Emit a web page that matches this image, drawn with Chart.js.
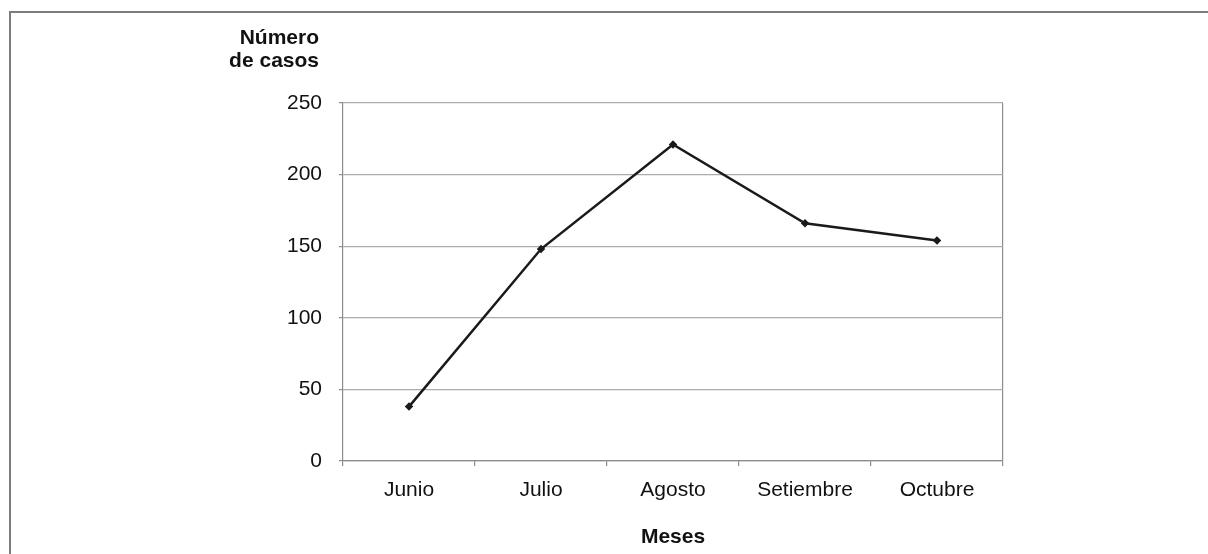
<!DOCTYPE html>
<html>
<head>
<meta charset="utf-8">
<script src="https://cdn.jsdelivr.net/npm/chart.js@4.4.0/dist/chart.umd.min.js"></script>
<style>
  html, body { margin: 0; padding: 0; background: #fff; }
  #wrap { position: relative; width: 1208px; height: 554px; overflow: hidden; }
  #frame { position: absolute; left: 9px; top: 11px; width: 1300px; height: 700px;
           border-top: 2px solid #7d7d7d; border-left: 2px solid #7d7d7d; }
  canvas { position: absolute; left: 0; top: 0; }
</style>
</head>
<body>
<div id="wrap">
  <div id="frame"></div>
  <canvas id="chart" width="1208" height="554"></canvas>
</div>
<script>
const months = ['Junio', 'Julio', 'Agosto', 'Setiembre', 'Octubre'];
const cases = [38, 148, 221, 166, 154];
const yTicks = [0, 50, 100, 150, 200, 250];
const yTitle = ['Número', 'de casos'];
const xTitle = 'Meses';

const FONT = '"Liberation Sans", Arial, sans-serif';
const AXIS = '#8c8c8c';
const GRID = '#ababab';

// draws the y-axis caption above the tick labels
const yCaption = {
  id: 'yCaption',
  afterDraw(chart) {
    const ctx = chart.ctx;
    ctx.save();
    ctx.font = 'bold 21px ' + FONT;
    ctx.fillStyle = '#111';
    ctx.textAlign = 'right';
    ctx.textBaseline = 'alphabetic';
    ctx.fillText(yTitle[0], 319, 44);
    ctx.fillText(yTitle[1], 319, 67);
    ctx.restore();
  }
};

new Chart(document.getElementById('chart'), {
  type: 'line',
  data: {
    labels: months,
    datasets: [{
      data: cases,
      borderColor: '#1a1a1a',
      backgroundColor: '#1a1a1a',
      borderWidth: 2.5,
      tension: 0,
      pointStyle: 'rectRot',
      pointRadius: 2.5,
      pointHoverRadius: 2.5
    }]
  },
  options: {
    responsive: false,
    animation: false,
    events: [],
    layout: { padding: { left: 0, top: 103, right: 205, bottom: 0 } },
    plugins: { legend: { display: false }, tooltip: { enabled: false } },
    scales: {
      x: {
        offset: true,
        grid: {
          offset: true,
          // only the closing line on the right edge is drawn across the plot
          color: (c) => (c.type !== 'tick' ? AXIS : 'rgba(0,0,0,0)'),
          tickColor: AXIS,
          tickLength: 5,
          lineWidth: 1.2
        },
        border: { color: AXIS, width: 1.2 },
        ticks: { color: '#111', font: { family: FONT, size: 21 }, padding: 12, maxRotation: 0 },
        title: {
          display: true,
          text: xTitle,
          color: '#111',
          font: { family: FONT, size: 21, weight: 'bold' },
          padding: { top: 0, bottom: 4 }
        },
        afterFit(scale) { scale.height = 93; }
      },
      y: {
        min: 0,
        max: 250,
        afterBuildTicks(scale) { scale.ticks = yTicks.map(v => ({ value: v })); },
        grid: { color: GRID, tickColor: AXIS, tickLength: 4, lineWidth: 1.2 },
        border: { color: AXIS, width: 1.2 },
        ticks: { color: '#111', font: { family: FONT, size: 21 }, padding: 17 },
        afterFit(scale) { scale.width = 343; }
      }
    }
  },
  plugins: [yCaption]
});
</script>
</body>
</html>
